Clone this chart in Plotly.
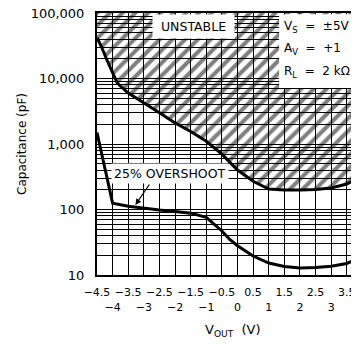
import plotly.graph_objects as go

# unstable boundary (upper curve) and 25% overshoot curve
upper_x = [-4.5, -4.35, -4.2, -4.0, -3.85, -3.5, -3.0, -2.5, -2.0, -1.5, -1.0,
           -0.5, 0.0, 0.5, 1.0, 1.5, 2.0, 2.5, 3.0, 3.5, 4.0, 4.5]
upper_y = [42000, 30000, 20000, 12500, 8500, 6000, 4300, 3000, 2100, 1550, 1100,
           700, 400, 270, 205, 198, 198, 202, 213, 245, 320, 450]
ceiling_y = [100000] * len(upper_x)

lower_x = [-4.5, -4.0, -3.5, -3.0, -2.5, -2.0, -1.5, -1.0, -0.75, -0.5, -0.25,
           0.0, 0.5, 1.0, 1.5, 2.0, 2.5, 3.0, 3.5, 4.0, 4.5]
lower_y = [1500, 125, 112, 104, 98, 93, 88, 76, 60, 47, 35,
           28, 19.5, 15.2, 13.5, 12.8, 13, 13.6, 15, 19, 25]

x_ticks = [-4.5, -4, -3.5, -3, -2.5, -2, -1.5, -1, -0.5, 0, 0.5, 1, 1.5, 2,
           2.5, 3, 3.5, 4, 4.5]
x_labels = ["−4.5", "<br>−4", "−3.5", "<br>−3", "−2.5", "<br>−2", "−1.5", "<br>−1",
            "−0.5", "<br>0", "0.5", "<br>1", "1.5", "<br>2", "2.5", "<br>3", "3.5",
            "<br>4", "4.5"]
y_ticks = [10, 100, 1000, 10000, 100000]
y_labels = ["10", "100", "1,000", "10,000", "100,000"]
minor_y = [m * d for d in [10, 100, 1000, 10000] for m in range(2, 10)]

FONT = "DejaVu Sans"

fig = go.Figure()

# hatched unstable region: ceiling first, then curve filled up to it
fig.add_trace(go.Scatter(x=upper_x, y=ceiling_y, mode="lines",
                         line=dict(width=0, color="black"), hoverinfo="skip"))
fig.add_trace(go.Scatter(
    x=upper_x, y=upper_y, mode="lines", fill="tonexty",
    fillcolor="rgba(0,0,0,0)",
    fillpattern=dict(shape="/", size=9, solidity=0.45, fgcolor="black",
                     bgcolor="rgba(0,0,0,0)"),
    line=dict(color="black", width=3)))

fig.add_trace(go.Scatter(x=lower_x, y=lower_y, mode="lines",
                         line=dict(color="black", width=3)))

grid = dict(showgrid=True, gridcolor="black", gridwidth=1, zeroline=False,
            showline=True, linecolor="black", linewidth=2, ticks="",
            automargin=False, ticklabeloverflow="allow")

fig.update_xaxes(range=[-4.5, 4.5], tickmode="array", tickvals=x_ticks,
                 ticktext=x_labels, mirror=True, tickangle=0, ticklabelstandoff=6,
                 tickfont=dict(family=FONT, size=11, color="black"), **grid)
fig.update_yaxes(type="log", range=[1, 5], tickmode="array", tickvals=y_ticks,
                 ticktext=y_labels, ticklabelstandoff=8, mirror=True,
                 tickfont=dict(family=FONT, size=13, color="black"),
                 minor=dict(tickmode="array", tickvals=minor_y, showgrid=True,
                            gridcolor="black", gridwidth=1, ticks=""),
                 **grid)

# white box behind the conditions
fig.add_shape(type="rect", xref="paper", yref="paper", x0=0.648, x1=0.995,
              y0=0.714, y1=0.995, fillcolor="white", line=dict(width=0),
              layer="above")

cond = [("V<sub>S</sub>\u00a0\u00a0=\u00a0\u00a0±5V", 0.947),
        ("A<sub>V</sub>\u00a0\u00a0=\u00a0\u00a0+1", 0.863),
        ("R<sub>L</sub>\u00a0\u00a0=\u00a0\u00a02\u00a0kΩ", 0.775)]
for txt, yy in cond:
    fig.add_annotation(text=txt, xref="paper", yref="paper", x=0.658, y=yy,
                       xanchor="left", yanchor="middle", showarrow=False,
                       font=dict(family=FONT, size=12, color="black"))

fig.add_annotation(text="\u00a0UNSTABLE\u00a0", xref="paper", yref="paper",
                   x=0.345, y=0.947, xanchor="center", yanchor="middle",
                   showarrow=False, bgcolor="white", borderpad=4,
                   font=dict(family=FONT, size=12.5, color="black"))

fig.add_annotation(text="25%\u00a0OVERSHOOT", xref="paper", yref="paper",
                   x=0.26, y=0.389, xanchor="center", yanchor="middle",
                   showarrow=False, bgcolor="white", borderpad=2,
                   font=dict(family=FONT, size=12.5, color="black"))
fig.add_annotation(text="", x=-3.27, y=2.069, xref="x", yref="y",
                   ax=15, ay=-22, showarrow=True, arrowhead=2, arrowsize=1,
                   arrowwidth=1.2, arrowcolor="black")

fig.add_annotation(text="Capacitance (pF)", xref="paper", yref="paper",
                   x=-0.267, y=0.5, xanchor="center", yanchor="middle",
                   textangle=-90, showarrow=False,
                   font=dict(family=FONT, size=12, color="black"))
fig.add_annotation(text="V<sub>OUT</sub>\u00a0\u00a0(V)", xref="paper", yref="paper",
                   x=0.484, y=-0.21, xanchor="center", yanchor="middle",
                   showarrow=False, font=dict(family=FONT, size=13, color="black"))

# the page adds an 8px body margin, so the plot is laid out 8px up/left and
# runs past the right edge of the window like the reference
fig.update_layout(width=400, height=349, showlegend=False,
                  margin=dict(l=89, r=30, t=5, b=82),
                  paper_bgcolor="white", plot_bgcolor="white")

fig.write_html("out.html")
